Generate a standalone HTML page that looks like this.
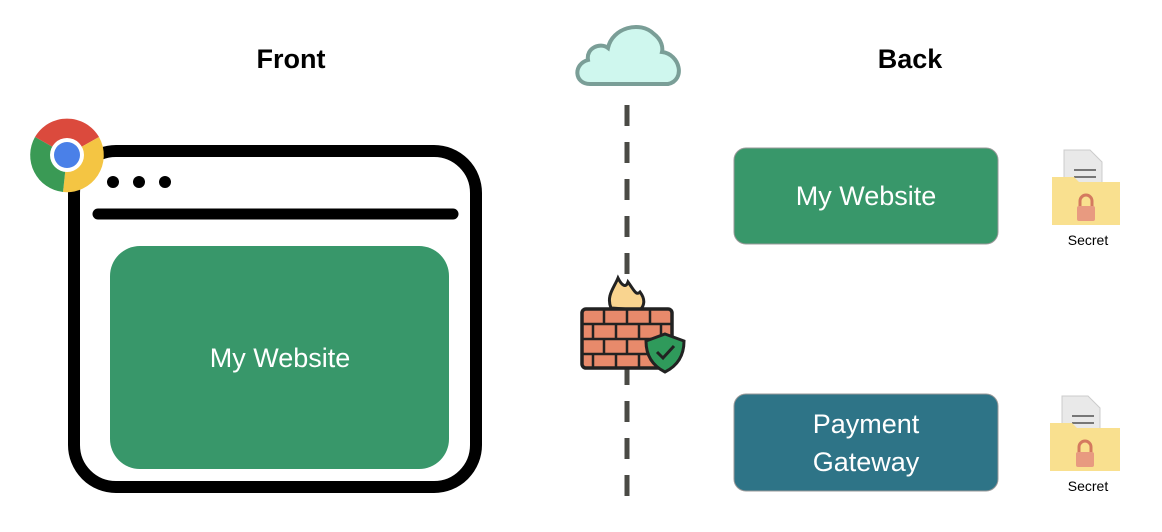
<!DOCTYPE html>
<html><head><meta charset="utf-8"><style>
html,body{margin:0;padding:0;background:#fff;}
svg{display:block;}
</style></head><body>
<svg width="1162" height="532" viewBox="0 0 1162 532" xmlns="http://www.w3.org/2000/svg">
<rect width="1162" height="532" fill="#fff"/>
<text x="291" y="68" font-family="Liberation Sans, sans-serif" font-weight="bold" font-size="27" text-anchor="middle" fill="#000">Front</text>
<text x="910" y="68" font-family="Liberation Sans, sans-serif" font-weight="bold" font-size="27" text-anchor="middle" fill="#000">Back</text>
<!-- browser frame -->
<rect x="74" y="151" width="402" height="336" rx="42" fill="#fff" stroke="#000" stroke-width="12"/>
<line x1="98" y1="214" x2="453" y2="214" stroke="#000" stroke-width="11" stroke-linecap="round"/>
<circle cx="113" cy="182" r="6" fill="#000"/><circle cx="139" cy="182" r="6" fill="#000"/><circle cx="165" cy="182" r="6" fill="#000"/>
<rect x="110" y="246" width="339" height="223" rx="30" fill="#38976a"/>
<text x="280" y="367" font-family="Liberation Sans, sans-serif" font-size="27" text-anchor="middle" fill="#fff">My Website</text>
<!-- chrome -->
<g transform="translate(67,155)">
<path d="M0,0 L-32,-18 A37,37 0 0 1 32,-18 Z" fill="#db4a3d"/>
<path d="M0,0 L32,-18 A37,37 0 0 1 -4,37 Z" fill="#f4c543"/>
<path d="M0,0 L-4,37 A37,37 0 0 1 -32,-18 Z" fill="#3a9a55"/>
<circle r="17" fill="#fff"/><circle r="13" fill="#4a80e8"/>
</g>
<!-- cloud -->
<path d="M590,84 C574,84 573,64 588,60 C586,48 600,42 608,48 C612,28 640,20 654,34 C662,40 663,48 662,52 C680,54 686,80 668,84 Z" fill="#cff7ee" stroke="#7a9e97" stroke-width="4"/>
<!-- dashed line -->
<line x1="627" y1="105" x2="627" y2="496" stroke="#4a4a45" stroke-width="5" stroke-dasharray="21 16"/>
<!-- firewall -->
<path d="M611,308 C606,296 614,288 618,278 C622,286 626,288 628,282 C634,290 636,296 640,292 C646,300 644,306 640,310 Z" fill="#f9d48f" stroke="#222" stroke-width="3"/>
<rect x="582" y="309" width="90" height="59" rx="4" fill="#e88a6b" stroke="#222" stroke-width="3.5"/>
<g stroke="#222" stroke-width="2.5">
<line x1="582" y1="324" x2="672" y2="324"/><line x1="582" y1="339" x2="672" y2="339"/><line x1="582" y1="354" x2="672" y2="354"/>
<line x1="604" y1="309" x2="604" y2="324"/><line x1="627" y1="309" x2="627" y2="324"/><line x1="650" y1="309" x2="650" y2="324"/>
<line x1="593" y1="324" x2="593" y2="339"/><line x1="616" y1="324" x2="616" y2="339"/><line x1="639" y1="324" x2="639" y2="339"/><line x1="661" y1="324" x2="661" y2="339"/>
<line x1="604" y1="339" x2="604" y2="354"/><line x1="627" y1="339" x2="627" y2="354"/><line x1="650" y1="339" x2="650" y2="354"/>
<line x1="593" y1="354" x2="593" y2="368"/><line x1="616" y1="354" x2="616" y2="368"/><line x1="639" y1="354" x2="639" y2="368"/>
</g>
<path d="M665,334 L684,341 C684,356 677,366 665,372 C653,366 646,356 646,341 Z" fill="#2f9a5b" stroke="#222" stroke-width="3"/>
<path d="M657,352 L663,358 L674,346" fill="none" stroke="#222" stroke-width="3"/>
<!-- right boxes -->
<rect x="734" y="148" width="264" height="96" rx="12" fill="#38976a" stroke="#999" stroke-width="1"/>
<text x="866" y="205" font-family="Liberation Sans, sans-serif" font-size="27" text-anchor="middle" fill="#fff">My Website</text>
<rect x="734" y="394" width="264" height="97" rx="12" fill="#2e7487" stroke="#999" stroke-width="1"/>
<text x="866" y="433" font-family="Liberation Sans, sans-serif" font-size="27" text-anchor="middle" fill="#fff">Payment</text>
<text x="866" y="471" font-family="Liberation Sans, sans-serif" font-size="27" text-anchor="middle" fill="#fff">Gateway</text>
<!-- folders -->
<g id="f1" transform="translate(1052,150)">
<path d="M12,0 L38,0 L50,12 L50,45 L12,45 Z" fill="#e9e9e9" stroke="#ccc"/>
<line x1="22" y1="20" x2="44" y2="20" stroke="#777" stroke-width="2"/><line x1="22" y1="27" x2="44" y2="27" stroke="#777" stroke-width="2"/>
<path d="M0,27 L22,27 L27,32 L68,32 L68,75 L0,75 Z" fill="#f9e08f"/>
<path d="M28,57 v-6 a6,6 0 0 1 12,0 v6" fill="none" stroke="#d47a5f" stroke-width="3"/>
<rect x="25" y="56" width="18" height="15" rx="2" fill="#e89a80"/>
<text x="36" y="95" font-family="Liberation Sans, sans-serif" font-size="14" text-anchor="middle" fill="#000">Secret</text>
</g>
<g transform="translate(1050,396)">
<path d="M12,0 L38,0 L50,12 L50,45 L12,45 Z" fill="#e9e9e9" stroke="#ccc"/>
<line x1="22" y1="20" x2="44" y2="20" stroke="#777" stroke-width="2"/><line x1="22" y1="27" x2="44" y2="27" stroke="#777" stroke-width="2"/>
<path d="M0,27 L22,27 L27,32 L70,32 L70,75 L0,75 Z" fill="#f9e08f"/>
<path d="M29,57 v-6 a6,6 0 0 1 12,0 v6" fill="none" stroke="#d47a5f" stroke-width="3"/>
<rect x="26" y="56" width="18" height="15" rx="2" fill="#e89a80"/>
<text x="38" y="95" font-family="Liberation Sans, sans-serif" font-size="14" text-anchor="middle" fill="#000">Secret</text>
</g>
</svg>
</body></html>
